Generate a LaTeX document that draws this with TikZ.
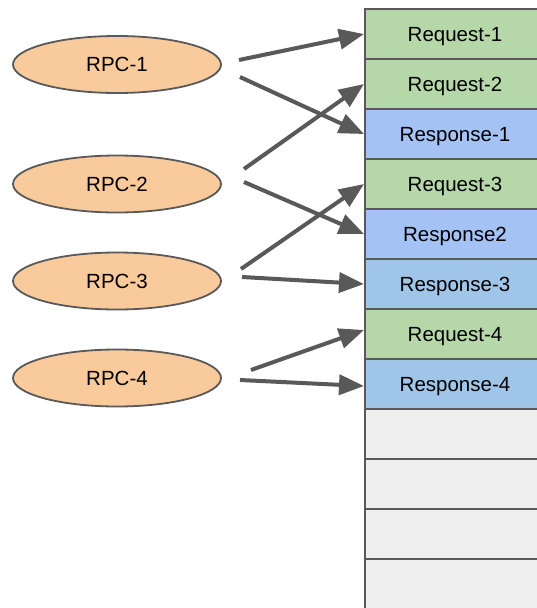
\documentclass[tikz,border=0pt]{standalone}
\usepackage{fontspec}
\setmainfont{Liberation Sans}
\usetikzlibrary{arrows.meta,calc,shapes.geometric}
\definecolor{reqgreen}{HTML}{B6D7A8}
\definecolor{respblue}{HTML}{A4C2F4}
\definecolor{resplight}{HTML}{9FC5E8}
\definecolor{emptygrey}{HTML}{EEEEEE}
\definecolor{rpcorange}{HTML}{F9CB9C}
\definecolor{edgegrey}{HTML}{595959}
\tikzset{
  slot/.style={draw=edgegrey, line width=2pt, minimum width=180pt, minimum height=50pt,
    inner sep=0pt, text height=15.2pt, text depth=0pt,
    font=\fontsize{20.5}{24}\selectfont, text=black},
  rpc/.style={ellipse, draw=edgegrey, line width=1.8pt, fill=rpcorange, minimum width=208pt,
    minimum height=57pt, inner sep=0pt, text height=14pt, text depth=0pt,
    font=\fontsize{20.5}{24}\selectfont, text=black},
  link/.style={draw=edgegrey, line width=4pt, -{Triangle[length=25pt,width=20pt]}},
}
\begin{document}
\begin{tikzpicture}[x=1pt,y=-1pt]
\useasboundingbox (0,0) rectangle (537,608);
\fill[white] (0,0) rectangle (537,608);
% message slots
\node[slot, fill=reqgreen]   (r1)  at (455,34)  {Request-1};
\node[slot, fill=reqgreen]   (r2)  at (455,84)  {Request-2};
\node[slot, fill=respblue]   (r3)  at (455,134) {Response-1};
\node[slot, fill=reqgreen]   (r4)  at (455,184) {Request-3};
\node[slot, fill=respblue]   (r5)  at (455,234) {Response2};
\node[slot, fill=resplight]  (r6)  at (455,284) {Response-3};
\node[slot, fill=reqgreen]   (r7)  at (455,334) {Request-4};
\node[slot, fill=resplight]  (r8)  at (455,384) {Response-4};
\node[slot, fill=emptygrey]  (r9)  at (455,434) {};
\node[slot, fill=emptygrey]  (r10) at (455,484) {};
\node[slot, fill=emptygrey]  (r11) at (455,534) {};
\node[slot, fill=emptygrey]  (r12) at (455,584) {};
% RPCs
\node[rpc] (p1) at (117,64.5) {RPC-1};
\node[rpc] (p2) at (117,184)  {RPC-2};
\node[rpc] (p3) at (117,281)  {RPC-3};
\node[rpc] (p4) at (117,378)  {RPC-4};
% arrow start points
\coordinate (s1a) at (239,60);
\coordinate (s1b) at (240,77);
\coordinate (s2a) at (244,169);
\coordinate (s2b) at (244,182);
\coordinate (s3a) at (241,269);
\coordinate (s3b) at (242,277);
\coordinate (s4a) at (251,370);
\coordinate (s4b) at (240,380);
% arrows
\draw[link] (s1a) -- (r1.west);
\draw[link] (s1b) -- (r3.west);
\draw[link] (s2a) -- (r2.west);
\draw[link] (s2b) -- (r5.west);
\draw[link] (s3a) -- (r4.west);
\draw[link] (s3b) -- (r6.west);
\draw[link] (s4a) -- ($(r7.west)+(0,-4)$);
\draw[link] (s4b) -- ($(r8.west)+(0,2)$);
\end{tikzpicture}
\end{document}
